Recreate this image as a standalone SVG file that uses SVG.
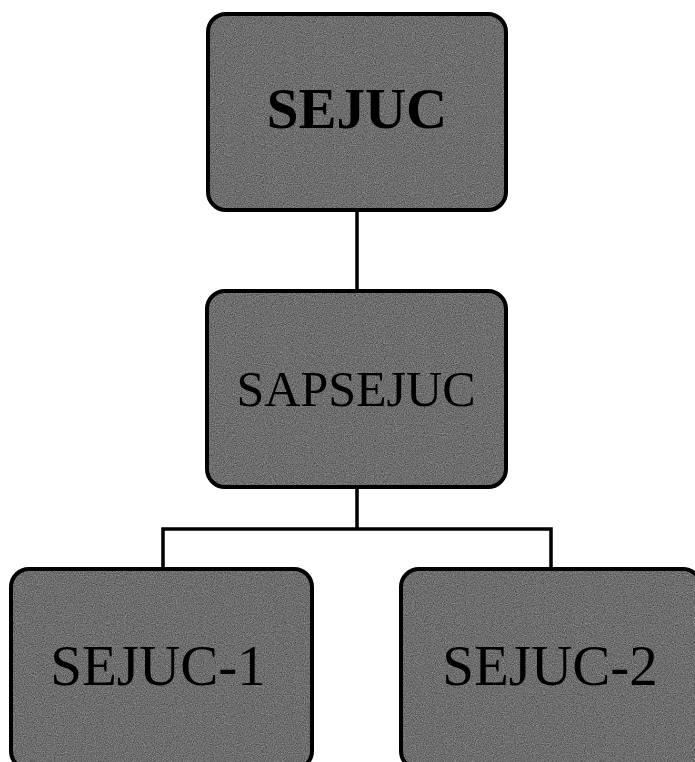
<svg xmlns="http://www.w3.org/2000/svg" width="695" height="762" viewBox="0 0 695 762">
  <style>
    .box { fill: #6e6e6e; filter: url(#grain); }
    .edge { fill: none; stroke: #000; stroke-width: 4; }
    .conn { fill: none; stroke: #000; stroke-width: 3.5; }
    .lbl { font-family: "Liberation Serif", "Times New Roman", serif; fill: #000; text-anchor: middle; }
  </style>
  <defs>
    <filter id="grain" x="0" y="0" width="100%" height="100%" color-interpolation-filters="sRGB">
      <feTurbulence type="fractalNoise" baseFrequency="0.9" numOctaves="2" seed="4" result="n"/>
      <feColorMatrix in="n" type="matrix" values="0.33 0.33 0.33 0 0  0.33 0.33 0.33 0 0  0.33 0.33 0.33 0 0  0 0 0 0 1" result="g"/>
      <feComposite in="SourceGraphic" in2="g" operator="arithmetic" k1="0" k2="1" k3="0.7" k4="-0.35" result="m"/>
      <feComposite in="m" in2="SourceAlpha" operator="in"/>
    </filter>
  </defs>
  <rect width="695" height="762" fill="#ffffff"/>
  <g id="connectors">
    <line class="conn" x1="357" y1="210" x2="357" y2="292"/>
    <polyline class="conn" points="163,568 163,529 551,529 551,568"/>
    <line class="conn" x1="357" y1="488" x2="357" y2="529"/>
  </g>
  <g id="sejuc">
    <rect class="box" x="208" y="14" width="298" height="196" rx="18"/>
    <rect class="edge" x="208" y="14" width="298" height="196" rx="18"/>
    <text class="lbl" x="357" y="128" font-size="57" font-weight="bold">SEJUC</text>
  </g>
  <g id="sapsejuc">
    <rect class="box" x="207" y="291" width="299" height="196" rx="18"/>
    <rect class="edge" x="207" y="291" width="299" height="196" rx="18"/>
    <text class="lbl" x="356" y="406" font-size="50">SAPSEJUC</text>
  </g>
  <g id="sejuc1">
    <rect class="box" x="11" y="569" width="301" height="200" rx="18"/>
    <rect class="edge" x="11" y="569" width="301" height="200" rx="18"/>
    <text class="lbl" x="158" y="685" font-size="57">SEJUC-1</text>
  </g>
  <g id="sejuc2">
    <rect class="box" x="401" y="569" width="300" height="200" rx="18"/>
    <rect class="edge" x="401" y="569" width="300" height="200" rx="18"/>
    <text class="lbl" x="550" y="685" font-size="57">SEJUC-2</text>
  </g>
</svg>
